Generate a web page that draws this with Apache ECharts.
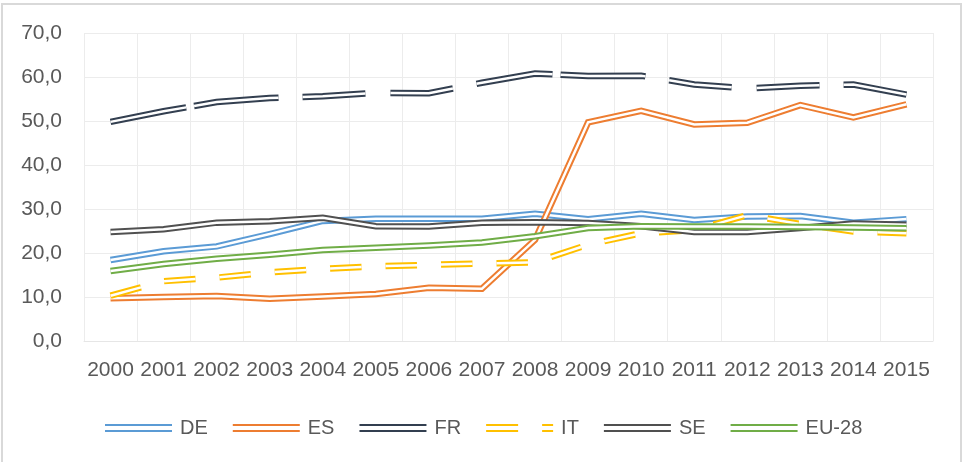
<!DOCTYPE html>
<html>
<head>
<meta charset="utf-8">
<script src="https://cdn.jsdelivr.net/npm/echarts@6/dist/echarts.min.js"></script>
<style>
  html, body { margin: 0; padding: 0; background: #fff; }
  #chart { width: 963px; height: 462px; }
</style>
</head>
<body>
<div id="chart"></div>
<script>
// data
var years = ['2000','2001','2002','2003','2004','2005','2006','2007','2008','2009','2010','2011','2012','2013','2014','2015'];
var DE = [18.4, 20.4, 21.5, 24.3, 27.3, 27.8, 27.8, 27.8, 28.9, 27.7, 28.9, 27.5, 28.3, 28.4, 26.9, 27.7];
var ES = [9.7, 10.0, 10.2, 9.6, 10.1, 10.7, 12.1, 11.9, 23.0, 49.7, 52.3, 49.2, 49.6, 53.6, 50.8, 53.8];
var FR = [49.8, 52.2, 54.3, 55.2, 55.6, 56.4, 56.3, 58.7, 60.8, 60.2, 60.3, 58.3, 57.4, 58.0, 58.3, 56.0];
var IT = [10.3, 13.6, 14.4, 15.6, 16.4, 17.0, 17.3, 17.6, 17.9, 21.9, 24.5, 25.2, 28.6, 26.6, 24.9, 24.5];
var SE = [24.8, 25.4, 26.9, 27.2, 28.0, 26.1, 26.0, 26.9, 27.0, 26.8, 26.1, 24.8, 24.8, 25.7, 26.7, 26.4];
var EU28 = [15.9, 17.5, 18.7, 19.6, 20.7, 21.2, 21.7, 22.4, 23.8, 25.7, 26.1, 26.0, 26.0, 25.9, 25.8, 25.6];
var yTicks = [0, 10, 20, 30, 40, 50, 60, 70];

var myChart = echarts.init(document.getElementById('chart'));

// excel style double line = wide coloured line + thin white line on top
function doubleLine(name, data, color, dash) {
    var type = dash ? dash : 'solid';
    return [
        {
            name: name, type: 'line', data: data, symbol: 'none', color: color,
            lineStyle: { color: color, width: 6.5, type: type, cap: 'butt', join: 'miter' }
        },
        {
            name: name + '_w', type: 'line', data: data, symbol: 'none', silent: true,
            lineStyle: { color: '#ffffff', width: 2.5, type: type, cap: 'butt', join: 'miter' }
        }
    ];
}

var fontFam = 'Liberation Sans';
var icon2 = 'path://M0,0H67V2H0Z M0,6H67V8H0Z';
var iconIT = 'path://M0,0H32V2H0Z M0,6H32V8H0Z M56,0H67V2H56Z M56,6H67V8H56Z';

var series = [].concat(
    doubleLine('DE', DE, '#5b9bd5'),
    doubleLine('ES', ES, '#ed7d31'),
    doubleLine('FR', FR, '#333f50', [77, 8, 85, 24, 63, 25, 63, 24]),
    doubleLine('IT', IT, '#ffc000', [31.5, 24]),
    doubleLine('SE', SE, '#505050'),
    doubleLine('EU-28', EU28, '#70ad47')
);

var option = {
    animation: false,
    backgroundColor: '#ffffff',
    graphic: [{
        type: 'rect',
        shape: { x: 2, y: 4, width: 959, height: 480 },
        style: { fill: 'none', stroke: '#d9d9d9', lineWidth: 2 }
    }],
    grid: { left: 84, right: 30, top: 33, bottom: 121 },
    legend: {
        left: 100,
        top: 413,
        itemWidth: 67,
        itemHeight: 8,
        itemGap: 25,
        itemStyle: { borderWidth: 0 },
        textStyle: { fontFamily: fontFam, fontSize: 20, color: '#595959', padding: [0, 0, 0, 3] },
        data: [
            { name: 'DE', icon: icon2 },
            { name: 'ES', icon: icon2 },
            { name: 'FR', icon: icon2 },
            { name: 'IT', icon: iconIT },
            { name: 'SE', icon: icon2 },
            { name: 'EU-28', icon: icon2 }
        ]
    },
    xAxis: {
        type: 'category',
        data: years,
        boundaryGap: true,
        axisLine: { show: true, lineStyle: { color: '#e6e6e6', width: 1 } },
        axisTick: { show: false },
        splitLine: { show: true, lineStyle: { color: '#ececec', width: 1 } },
        axisLabel: { interval: 0, margin: 19, fontFamily: fontFam, fontSize: 21, color: '#595959' }
    },
    yAxis: {
        type: 'value',
        min: yTicks[0],
        max: yTicks[yTicks.length - 1],
        interval: 10,
        axisLine: { show: false },
        axisTick: { show: false },
        splitLine: { show: true, lineStyle: { color: '#ececec', width: 1 } },
        axisLabel: {
            margin: 22, fontFamily: fontFam, fontSize: 21, color: '#595959',
            formatter: function (v) { return v.toFixed(1).replace('.', ','); }
        }
    },
    series: series
};

myChart.setOption(option);
</script>
</body>
</html>
